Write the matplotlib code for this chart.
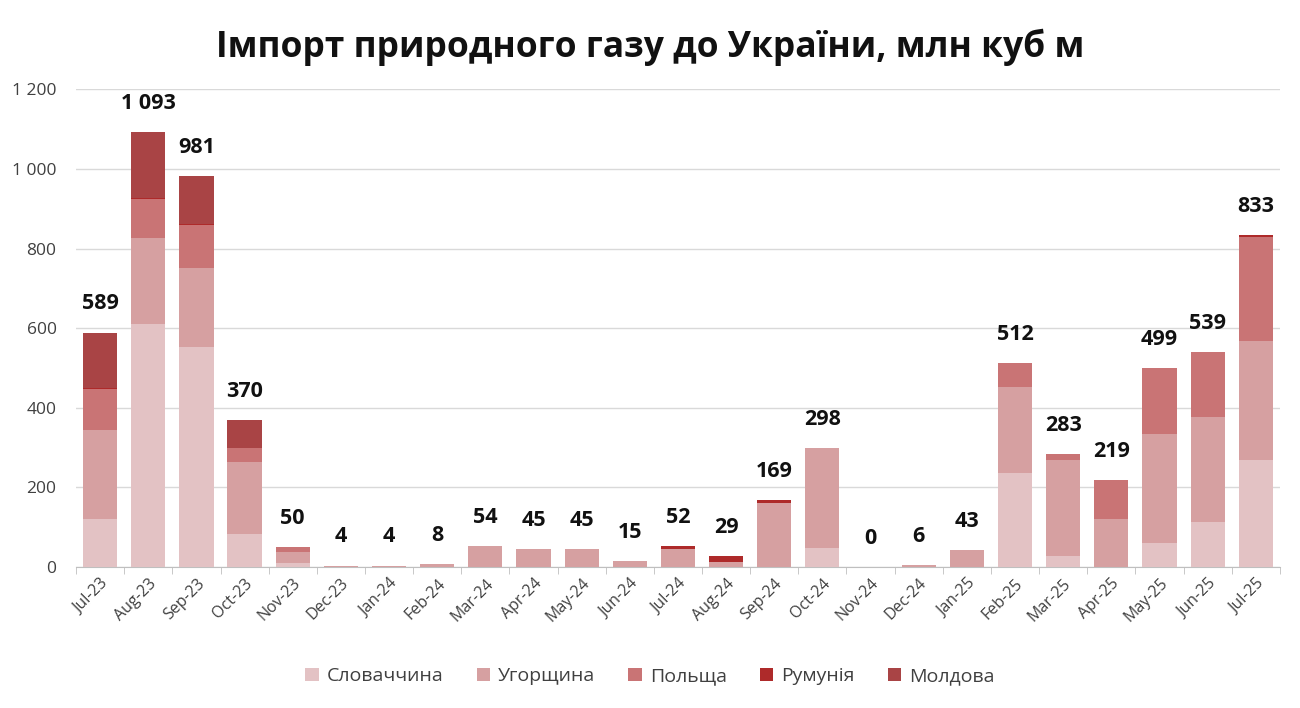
import matplotlib
matplotlib.use("Agg")
import matplotlib.pyplot as plt
import numpy as np
from matplotlib.ticker import FuncFormatter, FixedLocator

plt.rcParams['font.family'] = ['Open Sans', 'DejaVu Sans']

months = ["Jul-23", "Aug-23", "Sep-23", "Oct-23", "Nov-23", "Dec-23", "Jan-24", "Feb-24",
          "Mar-24", "Apr-24", "May-24", "Jun-24", "Jul-24", "Aug-24", "Sep-24", "Oct-24",
          "Nov-24", "Dec-24", "Jan-25", "Feb-25", "Mar-25", "Apr-25", "May-25", "Jun-25", "Jul-25"]
totals = [589, 1093, 981, 370, 50, 4, 4, 8, 54, 45, 45, 15, 52, 29, 169, 298, 0, 6, 43,
          512, 283, 219, 499, 539, 833]
slovakia = [120, 610, 553, 82, 11, 0, 0, 0, 0, 0, 0, 0, 0, 0, 0, 48, 0, 0, 0,
            236, 28, 0, 60, 114, 270]
hungary = [224, 217, 199, 181, 27, 4, 4, 8, 54, 45, 45, 15, 45, 14, 161, 250, 0, 6, 43,
           216, 242, 121, 274, 262, 299]
poland = [103, 98, 108, 35, 12, 0, 0, 0, 0, 0, 0, 0, 0, 0, 0, 0, 0, 0, 0,
          60, 13, 98, 165, 163, 261]
romania = [2, 1, 1, 1, 0, 0, 0, 0, 0, 0, 0, 0, 7, 15, 8, 0, 0, 0, 0,
           0, 0, 0, 0, 0, 3]
moldova = [140, 167, 120, 71, 0, 0, 0, 0, 0, 0, 0, 0, 0, 0, 0, 0, 0, 0, 0,
           0, 0, 0, 0, 0, 0]

series_names = ["Словаччина", "Угорщина", "Польща", "Румунія", "Молдова"]
series = [slovakia, hungary, poland, romania, moldova]
colors = ["#E3C2C4", "#D6A0A1", "#C97475", "#AE2A2A", "#A94445"]

fig = plt.figure(figsize=(13, 7.08), dpi=100)
ax = fig.add_axes([0.0585, 0.199, 0.926, 0.675])

x = np.arange(len(months))
bottom = np.zeros(len(months))
for name, vals, c in zip(series_names, series, colors):
    v = np.array(vals, dtype=float)
    ax.bar(x, v, width=0.71, bottom=bottom, color=c, label=name, zorder=3, linewidth=0)
    bottom += v

for xi, top, t in zip(x, bottom, totals):
    ax.annotate(f"{t:,}".replace(",", " "), (xi, top), xytext=(0, 13), textcoords="offset points",
                ha="center", va="bottom", fontsize=15.5, fontweight="bold", color="#111111")

ax.set_xlim(-0.5, len(months) - 0.5)
ax.set_ylim(0, 1200)
ax.set_yticks(np.arange(0, 1201, 200))
ax.yaxis.set_major_formatter(FuncFormatter(lambda v, p: f"{int(v):,}".replace(",", " ")))
ax.grid(axis="y", color="#D9D9D9", linewidth=1, zorder=0)
ax.tick_params(axis="y", length=0, labelsize=12.5, labelcolor="#404040", pad=14)

ax.set_xticks(x)
ax.set_xticklabels(months, rotation=45, ha="right", rotation_mode="anchor", fontsize=11.5, color="#404040")
ax.tick_params(axis="x", length=0, pad=6)
ax.xaxis.set_minor_locator(FixedLocator(np.arange(-0.5, len(months), 1)))
ax.tick_params(axis="x", which="minor", length=5, color="#BFBFBF", direction="out")

for s in ["top", "right", "left"]:
    ax.spines[s].set_visible(False)
ax.spines["bottom"].set_color("#BFBFBF")

fig.suptitle("Імпорт природного газу до України, млн куб м", x=0.5, y=0.96,
             fontsize=25.5, fontweight="bold", color="#111111")

handles, labels = ax.get_legend_handles_labels()
fig.legend(handles, labels, loc="center", bbox_to_anchor=(0.5, 0.045), ncol=5, frameon=False,
           fontsize=14, handlelength=0.7, handleheight=0.7, handletextpad=0.4, columnspacing=1.7,
           labelcolor="#404040")

fig.savefig("out.png", dpi=100)
